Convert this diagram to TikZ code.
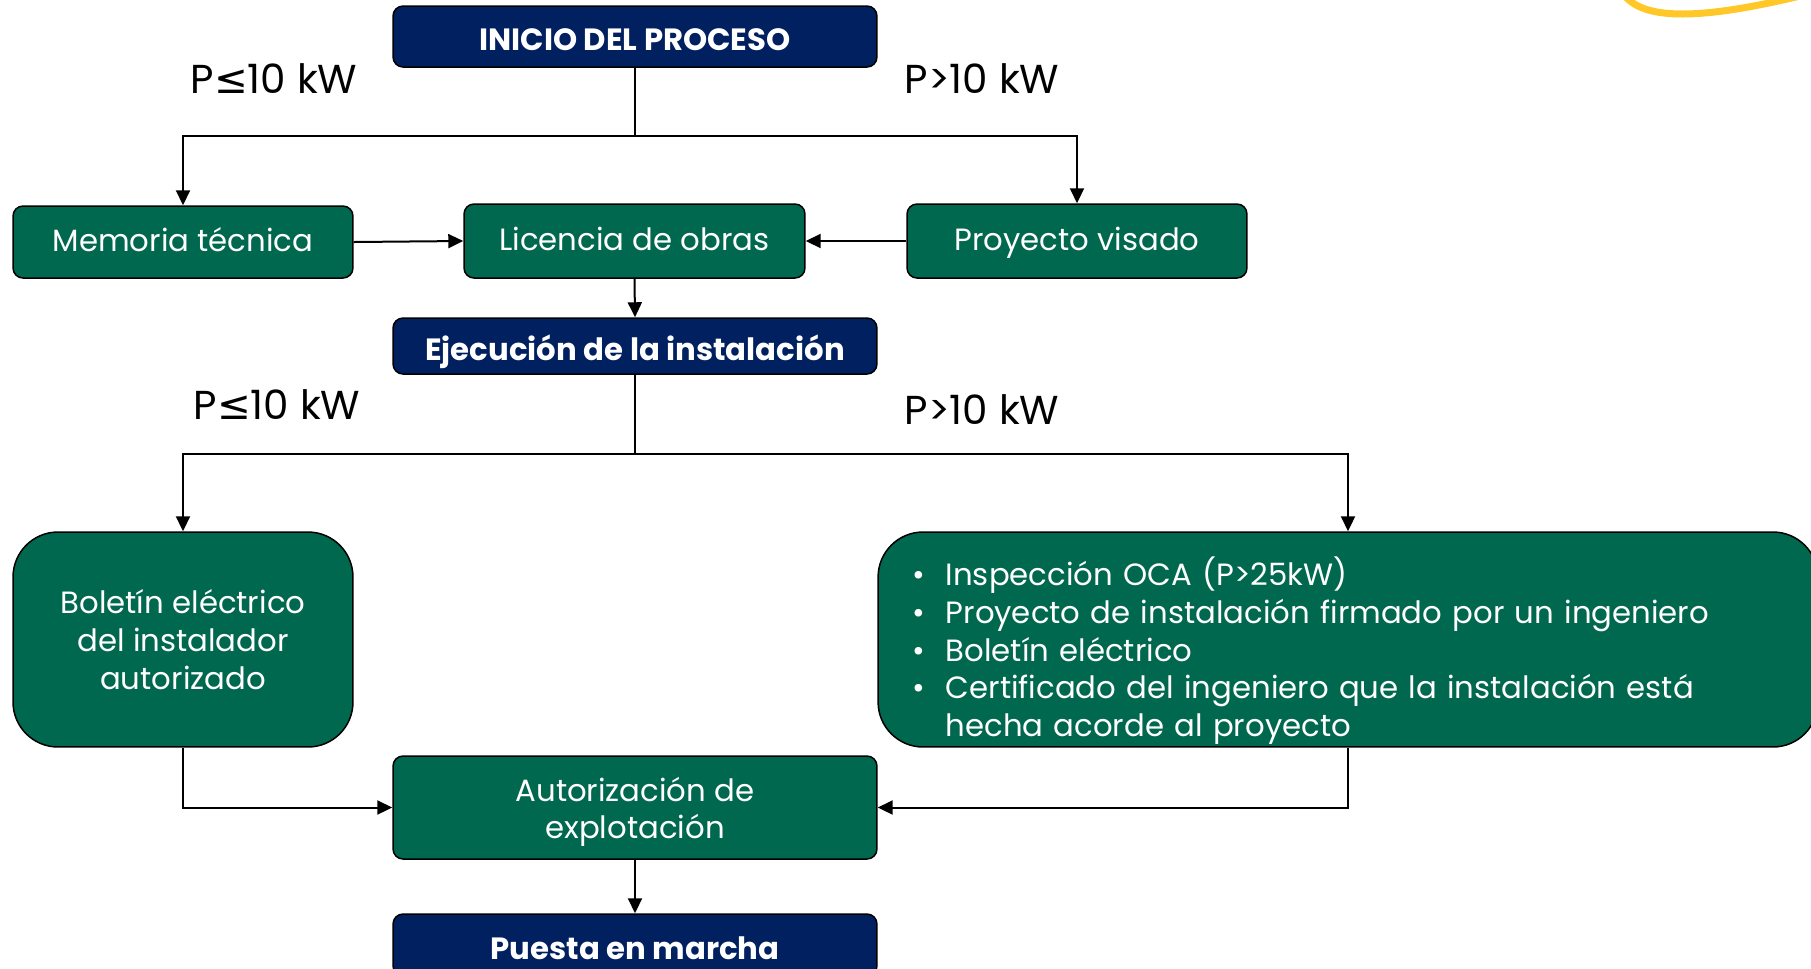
\documentclass[tikz,border=0pt]{standalone}
\usepackage{fontspec}
\setmainfont{Poppins}
\newfontfamily\symfont{DejaVu Sans}
\usetikzlibrary{arrows.meta}
\definecolor{navy}{RGB}{0,32,96}
\definecolor{forest}{RGB}{0,104,78}
\definecolor{sunyellow}{RGB}{255,200,40}
\tikzset{
	box/.style={draw=black, line width=0.3mm, text=white, inner sep=0pt, align=center},
	oneline/.style={text height=12pt, text depth=1.5pt},
	navybox/.style={box, text height=17pt, text depth=1pt, fill=navy, rounded corners=0.2cm, minimum width=9.68cm, font=\fontsize{17.5}{20}\selectfont\bfseries},
	greenbox/.style={box, fill=forest, rounded corners=0.2cm, font=\fontsize{17.5}{21.5}\selectfont},
	bigbox/.style={greenbox, rounded corners=0.9cm},
	link/.style={line width=0.4mm},
	arr/.style={link, -{Triangle[length=3mm,width=2.8mm]}},
	power/.style={font=\fontsize{23}{27}\selectfont}
}

\begin{document}
\begin{tikzpicture}[x=0.02cm, y=-0.02cm]
		%%%%% START %%%%%
		\useasboundingbox (0,0) rectangle (1811,968);
		\clip (0,0) rectangle (1811,968);
		
		\draw[sunyellow, line width=1.4mm, line cap=round] (1625,-4) .. controls (1645,20) and (1700,20) .. (1800,-4);
		
		\node[navybox, minimum height=1.22cm] (inicio) at (635,36.5) {INICIO DEL PROCESO};
		\node[power] (pmenor1) at (274,79) {P{\symfont ≤}10 kW};
		\node[power] (pmayor1) at (982,79) {P>10 kW};
		
		\node[greenbox, oneline, minimum width=6.8cm, minimum height=1.44cm] (memoria) at (183,242) {Memoria técnica};
		\node[greenbox, oneline, minimum width=6.82cm, minimum height=1.48cm] (licencia) at (634.5,241) {Licencia de obras};
		\node[greenbox, oneline, minimum width=6.8cm, minimum height=1.48cm] (proyecto) at (1077,241) {Proyecto visado};
		
		\node[navybox, minimum height=1.12cm] (ejecucion) at (635,346) {Ejecución de la instalación};
		\node[power] (pmenor2) at (277,405) {P{\symfont ≤}10 kW};
		\node[power] (pmayor2) at (982,410) {P>10 kW};
		
		\node[bigbox, minimum width=6.8cm, minimum height=4.3cm] (boletin) at (183,639.5) {Boletín eléctrico\\del instalador\\autorizado};
		\node[bigbox, align=left, text width=17.44cm, inner xsep=0.68cm, minimum height=4.3cm] (requisitos) at (1348,639.5) {%
			\raisebox{-0.26cm}[\height][\depth]{%
			\begin{tabular}{@{}l@{\hspace{0.42cm}}l@{}}
				• & Inspección OCA (P>25kW)\\
				• & Proyecto de instalación firmado por un ingeniero\\
				• & Boletín eléctrico\\
				• & Certificado del ingeniero que la instalación está\\
				  & hecha acorde al proyecto
			\end{tabular}}};
		
		\node[greenbox, minimum width=9.68cm, minimum height=2.06cm] (autorizacion) at (635,807.5) {\raisebox{-0.1cm}[\height][\depth]{\begin{tabular}{@{}c@{}}Autorización de\\explotación\end{tabular}}};
		\node[navybox, minimum height=1.24cm] (puesta) at (635,945) {Puesta en marcha};
		
		% connectors
		\path (inicio.south) ++(0,68) coordinate (split1);
		\draw[link] (inicio.south) -- (split1);
		\draw[arr] (split1) -| (memoria.north);
		\draw[arr] (split1) -| (proyecto.north);
		\draw[arr] (memoria.east) -- (licencia.west);
		\draw[arr] (proyecto.west) -- (licencia.east);
		\draw[arr] (licencia.south) -- (ejecucion.north);
		
		\path (ejecucion.south) ++(0,79) coordinate (split2);
		\draw[link] (ejecucion.south) -- (split2);
		\draw[arr] (split2) -| (boletin.north);
		\draw[arr] (split2) -| (requisitos.north);
		\draw[arr] (boletin.south) |- (autorizacion.west);
		\draw[arr] (requisitos.south) |- (autorizacion.east);
		\draw[arr] (autorizacion.south) -- (puesta.north);
		
		%%%%% END %%%%%
	\end{tikzpicture}
\end{document}
